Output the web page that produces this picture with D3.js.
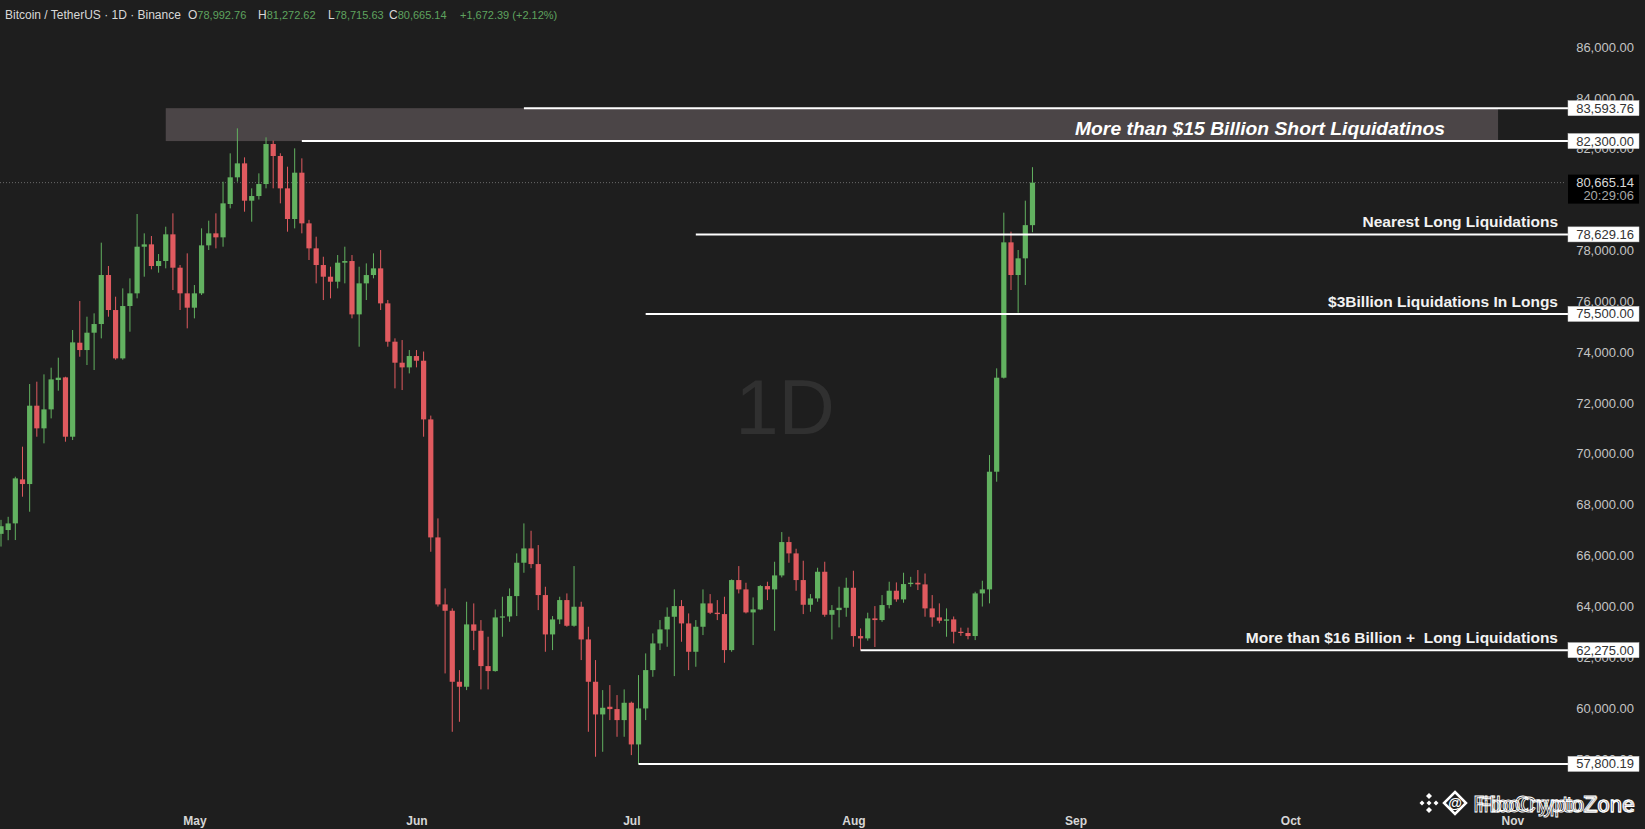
<!DOCTYPE html>
<html>
<head>
<meta charset="utf-8">
<script src="https://cdn.jsdelivr.net/npm/d3@7"></script>
<style>
	html, body { margin: 0; padding: 0; background: #1e1e1e; overflow: hidden; }
	svg { display: block; font-family: "Liberation Sans", Arial, sans-serif; }
</style>
</head>
<body>
<svg id="chart" width="1645" height="829"></svg>
<script>
var WIDTH = 1645;
var HEIGHT = 829;
var GREEN = "#62b160";
var RED = "#e05a5f";

// daily candles, Apr 4 .. Aug 26
var dates = d3.timeDay.range(new Date(2024, 3, 4), new Date(2024, 7, 27));
var opens = [66850, 67000, 67262, 68992, 68809, 71891, 71000, 71746, 72900, 73005,
	70671, 74369, 74080, 74762, 75103, 77031, 75654, 73752, 75811, 76310,
	78145, 78237, 77385, 77582, 78631, 77319, 76310, 75746, 76310, 78198,
	78670, 78513, 79824, 80874, 81423, 79955, 80138, 80610, 82184, 81712,
	80440, 79234, 81056, 79063, 78080, 77424, 76965, 76768, 77516, 77581,
	75483, 76703, 77030, 77293, 75916, 74408, 73582, 73398, 73844, 73660,
	71352, 66710, 64074, 63825, 61032, 60836, 63288, 63038, 61648, 61452,
	63563, 63603, 64402, 65714, 66277, 65661, 64442, 62894, 63484, 64245,
	63235, 63983, 62697, 61032, 59747, 60049, 59957, 59524, 60206, 58567,
	59983, 61491, 62540, 63091, 63589, 64009, 63327, 62212, 63196, 64114,
	63747, 63694, 62278, 65032, 64665, 63760, 63878, 64796, 64665, 65215,
	66527, 66081, 65032, 64061, 64311, 65359, 63668, 63851, 63943, 64730,
	62829, 62738, 63525, 63459, 64049, 64613, 64272, 64875, 64927, 64862,
	63918, 63564, 63433, 63485, 62999, 62950, 62830, 64508, 64665, 69294,
	72992, 78316, 77031, 77687, 78992.76];
var highs = [67400, 67520, 69098, 70278, 72743, 72835, 73123, 73385, 73779, 73030,
	74867, 76008, 75392, 75523, 78303, 77385, 76178, 76506, 76900, 79430,
	78670, 78565, 77857, 78932, 79457, 77424, 77883, 76637, 78867, 79168,
	79457, 80702, 81817, 82800, 81659, 80440, 81030, 82446, 82315, 81820,
	81292, 82013, 81620, 79200, 78538, 77750, 77358, 77817, 78145, 77817,
	77358, 77489, 77883, 78014, 76050, 74540, 74473, 74080, 74080, 74020,
	71500, 67458, 64704, 63920, 61491, 64179, 64114, 63458, 62803, 63878,
	64376, 64704, 66081, 67261, 66972, 66409, 64769, 63616, 64376, 64507,
	65583, 64179, 63196, 61885, 60704, 60901, 60508, 60731, 60250, 61294,
	62147, 62934, 63458, 63956, 64665, 64245, 63720, 63458, 64665, 64481,
	64245, 64376, 65058, 65582, 64927, 64350, 64835, 64966, 65753, 66920,
	66736, 66264, 65792, 64481, 65517, 65753, 64048, 64770, 65124, 65399,
	63130, 63748, 64009, 64442, 64967, 64940, 65321, 65160, 65426, 65290,
	64442, 64115, 63918, 63600, 63160, 63160, 64573, 65006, 69950, 73360,
	79483, 78736, 78015, 79955, 81272.62];
var lows = [66350, 66600, 66606, 68311, 67720, 70671, 70409, 71392, 72481, 70474,
	70540, 73818, 73490, 73294, 74539, 75392, 73700, 73700, 74802, 76113,
	76965, 77254, 77123, 77293, 76441, 75654, 74933, 75326, 76244, 78014,
	78080, 78145, 79653, 80702, 79522, 79129, 80000, 80440, 80440, 79850,
	78735, 78866, 78670, 77621, 76703, 76047, 76113, 76506, 76703, 75326,
	74211, 76047, 76900, 75654, 74211, 72572, 72507, 73162, 73400, 70671,
	66146, 63990, 61360, 59065, 59459, 60704, 62278, 60731, 60731, 61430,
	62803, 63392, 63616, 65320, 65500, 63851, 62212, 62278, 63300, 63196,
	63196, 61885, 59065, 58082, 58278, 59524, 58868, 58868, 58147, 57800.19,
	59524, 61229, 62278, 62409, 61255, 62606, 61491, 61622, 62868, 63694,
	63458, 61780, 62212, 64507, 63720, 62475, 63850, 64245, 63039, 65137,
	65714, 64612, 63694, 63786, 64180, 63589, 62698, 63170, 63589, 62409,
	62275, 62650, 62400, 63390, 63918, 64180, 64140, 64770, 64640, 63590,
	63197, 63330, 62803, 62541, 62840, 62700, 62672, 63990, 64115, 68901,
	72960, 76441, 75549, 76638, 78715.63];
var closes = [67150, 67260, 69032, 68809, 71891, 71000, 71746, 72926, 72992, 70671,
	74382, 74080, 74762, 75103, 77031, 75654, 73752, 75811, 76310, 78145,
	78237, 77385, 77582, 78631, 77319, 76310, 75746, 76310, 78198, 78670,
	78513, 79850, 80874, 81423, 79955, 80138, 80610, 82184, 81712, 80440,
	79234, 81056, 79063, 78080, 77424, 76965, 76768, 77516, 77581, 75483,
	76703, 77030, 77293, 75916, 74408, 73582, 73398, 73844, 73660, 71352,
	66710, 64074, 63825, 61032, 60836, 63288, 63038, 61648, 61452, 63563,
	63603, 64402, 65714, 66277, 65661, 64442, 62894, 63484, 64245, 63235,
	63983, 62697, 61032, 59747, 60009, 59957, 59524, 60206, 58567, 59983,
	61491, 62540, 63091, 63589, 64009, 63327, 62212, 63196, 64114, 63747,
	63694, 62278, 65032, 64665, 63760, 63878, 64796, 64665, 65215, 66527,
	66081, 65032, 64061, 64311, 65359, 63668, 63851, 63943, 64730, 62829,
	62737, 63525, 63459, 64049, 64613, 64272, 64875, 64927, 64862, 63918,
	63564, 63433, 63485, 62999, 62950, 62830, 64508, 64665, 69294, 72992,
	78316, 77031, 77687, 78992.76, 80665.14];

// 80,000 sits under the last price tag, so it is not listed
var priceTicks = [58000, 60000, 62000, 64000, 66000, 68000, 70000, 72000,
	74000, 76000, 78000, 82000, 84000, 86000];
var monthTicks = d3.timeMonth.range(new Date(2024, 4, 1), new Date(2024, 10, 2));

// horizontal levels: price, first day of the line, note
var levelPrices = [83593.76, 82300, 78629.16, 75500, 62275, 57800.19];
var levelStarts = [new Date(2024, 5, 16), new Date(2024, 4, 16), new Date(2024, 6, 10),
	new Date(2024, 6, 3), new Date(2024, 7, 2), new Date(2024, 6, 2)];
var levelNotes = ["", "", "Nearest Long Liquidations", "$3Billion Liquidations In Longs",
	"More than $16 Billion +\u00a0 Long Liquidations", ""];
var zoneRange = [82300, 83593.76];
var zoneDates = [new Date(2024, 3, 27), new Date(2024, 9, 30)];
var zoneNote = "More than $15 Billion Short Liquidatinos";

var lastPrice = 80665.14;
var lastTime = "20:29:06";
var headerTitle = "Bitcoin / TetherUS \u00b7 1D \u00b7 Binance";
var headerKeys = ["O", "H", "L", "C"];
var headerValues = ["78,992.76", "81,272.62", "78,715.63", "80,665.14"];
var headerChange = "+1,672.39 (+2.12%)";

var svg = d3.select("#chart");
svg.append("rect").attr("width", WIDTH).attr("height", HEIGHT).attr("fill", "#1e1e1e");

var x = d3.scaleTime()
	.domain([new Date(2024, 3, 4), new Date(2024, 10, 1)])
	.range([1, 1512.4]);
var y = d3.scaleLinear()
	.domain([60000, 86000])
	.range([708, 47]);

var fmt = d3.format(",.2f");

// watermark
svg.append("text")
	.attr("x", 785).attr("y", 434)
	.attr("text-anchor", "middle")
	.attr("fill", "#303030")
	.attr("font-size", 78)
	.text("1D");

// liquidation zone
svg.append("rect")
	.attr("x", x(zoneDates[0]))
	.attr("y", y(zoneRange[1]))
	.attr("width", x(zoneDates[1]) - x(zoneDates[0]))
	.attr("height", y(zoneRange[0]) - y(zoneRange[1]))
	.attr("fill", "#4b4547");
svg.append("text")
	.attr("x", 1075).attr("y", y(zoneRange[0]) - 6)
	.attr("fill", "#ffffff")
	.attr("font-size", 19)
	.attr("font-weight", "bold")
	.attr("font-style", "italic")
	.attr("textLength", 370)
	.attr("lengthAdjust", "spacingAndGlyphs")
	.text(zoneNote);

// last price dotted line
svg.append("line")
	.attr("x1", 0).attr("x2", 1566)
	.attr("y1", y(lastPrice)).attr("y2", y(lastPrice))
	.attr("stroke", "#6a6a6a")
	.attr("stroke-width", 1)
	.attr("stroke-dasharray", "1,2");

// candles
var idx = d3.range(dates.length);
var candles = svg.append("g").attr("class", "candles");
candles.selectAll("line")
	.data(idx)
	.join("line")
	.attr("x1", function(i) {return x(dates[i]);})
	.attr("x2", function(i) {return x(dates[i]);})
	.attr("y1", function(i) {return y(highs[i]);})
	.attr("y2", function(i) {return y(lows[i]);})
	.attr("stroke", function(i) {return closes[i] >= opens[i] ? GREEN : RED;})
	.attr("stroke-width", 1);
candles.selectAll("rect")
	.data(idx)
	.join("rect")
	.attr("x", function(i) {return x(dates[i]) - 2.6;})
	.attr("width", 5.2)
	.attr("y", function(i) {return y(Math.max(opens[i], closes[i]));})
	.attr("height", function(i) {
		return Math.max(1.2, Math.abs(y(opens[i]) - y(closes[i])));
	})
	.attr("fill", function(i) {return closes[i] >= opens[i] ? GREEN : RED;});

// price axis
var axisG = svg.append("g")
	.attr("transform", "translate(1634,0)")
	.call(d3.axisRight(y).tickValues(priceTicks).tickFormat(fmt).tickSize(0).tickPadding(0));
axisG.select(".domain").remove();
axisG.selectAll("text")
	.attr("x", 0)
	.attr("text-anchor", "end")
	.attr("fill", "#c4c4c4")
	.attr("font-size", 13)
	.attr("font-family", "Liberation Sans, Arial, sans-serif");

// time axis
var timeG = svg.append("g")
	.attr("transform", "translate(0,816)")
	.call(d3.axisBottom(x).tickValues(monthTicks).tickFormat(d3.timeFormat("%b")).tickSize(0).tickPadding(0));
timeG.select(".domain").remove();
timeG.selectAll("text")
	.attr("fill", "#d6d6d6")
	.attr("font-size", 12)
	.attr("font-weight", "bold")
	.attr("font-family", "Liberation Sans, Arial, sans-serif");

// levels
var levels = svg.append("g").attr("class", "levels");
levelPrices.forEach(function(p, i) {
	levels.append("line")
		.attr("x1", x(levelStarts[i])).attr("x2", 1568)
		.attr("y1", y(p)).attr("y2", y(p))
		.attr("stroke", "#ffffff")
		.attr("stroke-width", 2);
	if (levelNotes[i]) {
		levels.append("text")
			.attr("x", 1558).attr("y", y(p) - 7)
			.attr("text-anchor", "end")
			.attr("fill", "#f2f2f2")
			.attr("font-size", 15.5)
			.attr("font-weight", "bold")
			.text(levelNotes[i]);
	}
	levels.append("rect")
		.attr("x", 1568).attr("y", y(p) - 7.5)
		.attr("width", 71).attr("height", 15)
		.attr("fill", "#ffffff")
		.attr("stroke", "#d0d0d0")
		.attr("stroke-width", 0.5);
	levels.append("text")
		.attr("x", 1634).attr("y", y(p) + 4.5)
		.attr("text-anchor", "end")
		.attr("fill", "#333333")
		.attr("font-size", 13)
		.text(fmt(p));
});

// last price tag
var tagY = y(lastPrice);
svg.append("rect")
	.attr("x", 1568).attr("y", tagY - 8)
	.attr("width", 71).attr("height", 29)
	.attr("fill", "#000000");
svg.append("text")
	.attr("x", 1634).attr("y", tagY + 4.5)
	.attr("text-anchor", "end").attr("fill", "#d8d8d8").attr("font-size", 13)
	.text(fmt(lastPrice));
svg.append("text")
	.attr("x", 1634).attr("y", tagY + 17.5)
	.attr("text-anchor", "end").attr("fill", "#a8a8a8").attr("font-size", 13)
	.text(lastTime);

// header
var header = svg.append("text")
	.attr("x", 5).attr("y", 19)
	.attr("font-size", 12)
	.attr("fill", "#d8d8d8");
header.append("tspan").text(headerTitle);
var headerX = [188, 258, 328, 389];
headerKeys.forEach(function(k, i) {
	header.append("tspan").attr("x", headerX[i]).attr("fill", "#d8d8d8").text(k);
	header.append("tspan").attr("fill", "#5fa35f").attr("font-size", 11).text(headerValues[i]);
});
header.append("tspan").attr("x", 460).attr("fill", "#5fa35f").attr("font-size", 11).text(headerChange);

// corner watermark
function diamond(cx, cy, r) {
	return "M" + cx + "," + (cy - r) + " L" + (cx + r) + "," + cy +
		" L" + cx + "," + (cy + r) + " L" + (cx - r) + "," + cy + " Z";
}
var mark = svg.append("g").attr("class", "mark").attr("fill", "#ffffff");
[[1429, 796, 3], [1429, 810, 3], [1422, 803, 2.5], [1436, 803, 2.5], [1429, 803, 2.5]].forEach(function(d) {
	mark.append("path").attr("d", diamond(d[0], d[1], d[2]));
});
mark.append("path").attr("d", diamond(1455, 803, 11))
	.attr("fill", "none").attr("stroke", "#ffffff").attr("stroke-width", 2.5);
mark.append("text").attr("x", 1455).attr("y", 808).attr("text-anchor", "middle")
	.attr("font-size", 14).attr("font-weight", "bold").text("@");
mark.append("text").attr("x", 1473).attr("y", 812)
	.attr("font-size", 22).attr("font-family", "DejaVu Sans")
	.attr("textLength", 162).attr("lengthAdjust", "spacingAndGlyphs")
	.attr("fill", "none").attr("stroke", "#ffffff").attr("stroke-width", 0.9)
	.text("FiboCryptoZone");
mark.append("text").attr("x", 1478).attr("y", 812)
	.attr("font-size", 22).attr("font-family", "Liberation Sans")
	.attr("textLength", 156).attr("lengthAdjust", "spacingAndGlyphs")
	.attr("fill", "none").attr("stroke", "#ffffff").attr("stroke-width", 0.9)
	.text("FiboCryptoZone");
</script>
</body>
</html>
